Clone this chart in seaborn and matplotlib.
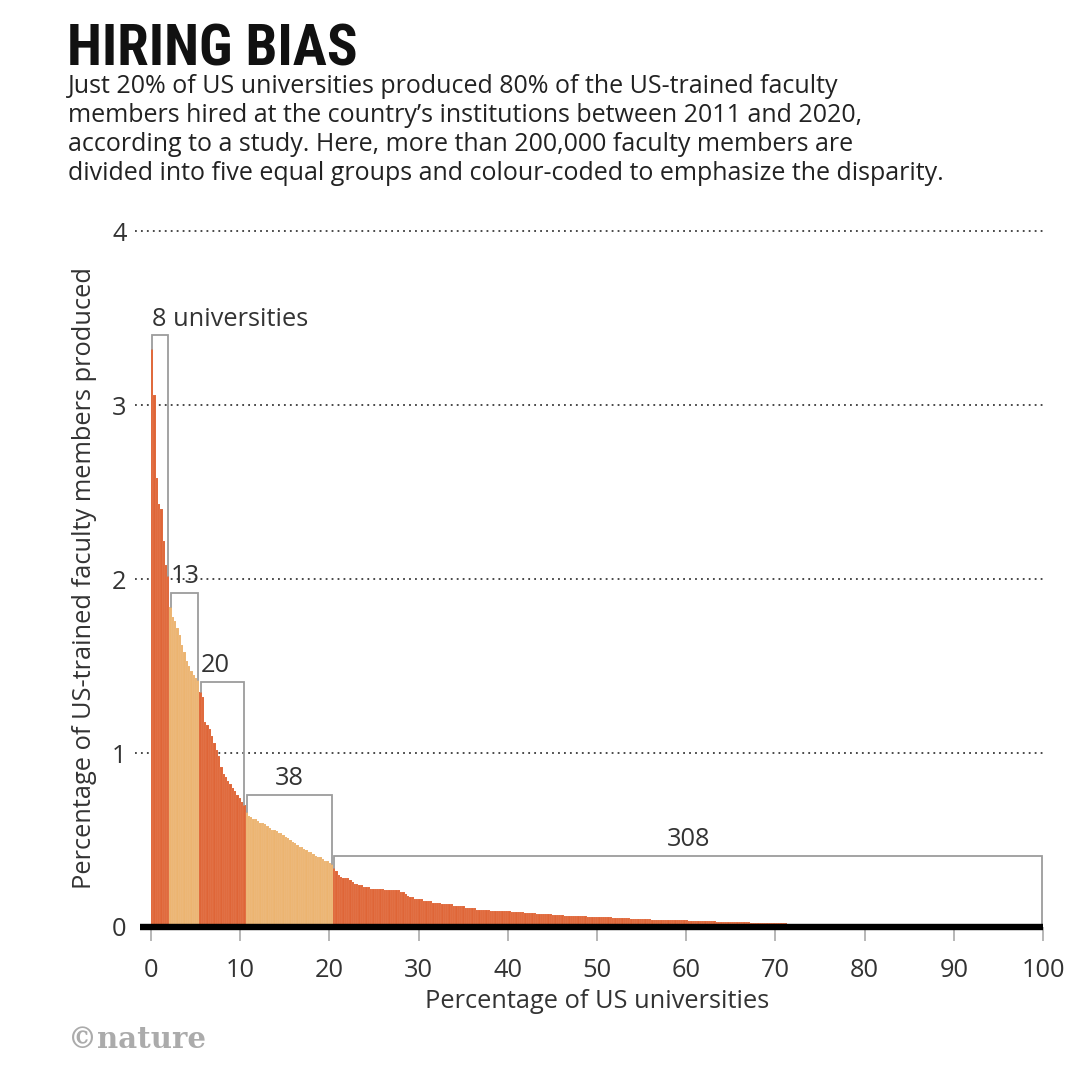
import numpy as np
import pandas as pd
import matplotlib
matplotlib.use("Agg")
import matplotlib.pyplot as plt
import seaborn as sns
from matplotlib import font_manager

# ---------------- data ----------------
G1 = [3.32, 3.06, 2.58, 2.43, 2.40, 2.22, 2.08, 2.02]
G2 = [1.84, 1.78, 1.76, 1.72, 1.68, 1.62, 1.58, 1.53, 1.50, 1.47, 1.45, 1.43, 1.42]
G3 = [1.35, 1.32, 1.18, 1.16, 1.14, 1.10, 1.06, 1.02, 0.98, 0.92,
      0.88, 0.86, 0.84, 0.82, 0.80, 0.78, 0.76, 0.74, 0.72, 0.70]
G4 = [0.66, 0.64, 0.63, 0.62, 0.62, 0.61, 0.60, 0.60, 0.59, 0.58,
      0.57, 0.56, 0.56, 0.55, 0.54, 0.54, 0.53, 0.52, 0.51, 0.50,
      0.49, 0.48, 0.47, 0.46, 0.46, 0.45, 0.44, 0.43, 0.43, 0.42,
      0.41, 0.40, 0.40, 0.39, 0.38, 0.38, 0.37, 0.36]
G5 = [0.34, 0.32, 0.30, 0.29, 0.28, 0.28, 0.28, 0.27, 0.26, 0.25,
      0.25, 0.24, 0.24, 0.23, 0.23, 0.23, 0.22, 0.22, 0.22, 0.22,
      0.22, 0.22, 0.21, 0.21, 0.21, 0.21, 0.21, 0.21, 0.21, 0.20,
      0.20, 0.19, 0.18, 0.17, 0.17, 0.16, 0.16, 0.16,
      0.16, 0.15, 0.15, 0.15, 0.15, 0.14, 0.14, 0.14, 0.14, 0.13,
      0.13, 0.13, 0.13, 0.13, 0.12, 0.12, 0.12, 0.12, 0.12, 0.11,
      0.11, 0.11, 0.11, 0.11, 0.10, 0.10, 0.10, 0.10, 0.10, 0.10,
      0.09, 0.09, 0.09, 0.09, 0.09, 0.09, 0.09, 0.09, 0.09,
      0.088, 0.087, 0.087, 0.085, 0.084, 0.084, 0.082, 0.081, 0.080, 0.080,
      0.078, 0.077, 0.076, 0.076, 0.074, 0.073, 0.072, 0.072, 0.070, 0.069,
      0.068, 0.068, 0.067, 0.066, 0.065, 0.065, 0.064, 0.063, 0.063, 0.062,
      0.062, 0.061, 0.061, 0.060, 0.060, 0.059, 0.059, 0.058, 0.058,
      0.057, 0.057, 0.056, 0.055, 0.055, 0.054, 0.053, 0.053, 0.052, 0.051,
      0.050, 0.050, 0.049, 0.048, 0.048, 0.047, 0.046, 0.046, 0.045, 0.045,
      0.044, 0.044, 0.043, 0.043, 0.042, 0.042, 0.041, 0.041, 0.041, 0.040,
      0.040, 0.040, 0.039, 0.039, 0.039, 0.038, 0.038, 0.038, 0.037,
      0.037, 0.036, 0.036, 0.035, 0.035, 0.034, 0.034, 0.033, 0.033, 0.032,
      0.032, 0.031, 0.031, 0.030, 0.030, 0.030, 0.029, 0.029, 0.028, 0.028,
      0.028, 0.027, 0.027, 0.026, 0.026, 0.026, 0.025, 0.025, 0.025, 0.024,
      0.024, 0.024, 0.023, 0.023, 0.023, 0.022, 0.022, 0.022, 0.022,
      0.021, 0.021, 0.021, 0.020, 0.020, 0.020, 0.019, 0.019, 0.019, 0.018,
      0.018, 0.018, 0.018, 0.017, 0.017, 0.017, 0.017, 0.016, 0.016, 0.016,
      0.016, 0.015, 0.015, 0.015, 0.015, 0.015, 0.014, 0.014, 0.014, 0.014,
      0.014, 0.013, 0.013, 0.013, 0.013, 0.013, 0.013, 0.012, 0.012,
      0.012, 0.012, 0.012, 0.012, 0.011, 0.011, 0.011, 0.011, 0.011, 0.011,
      0.010, 0.010, 0.010, 0.010, 0.010, 0.010, 0.010, 0.009, 0.009, 0.009,
      0.009, 0.009, 0.009, 0.009, 0.009, 0.008, 0.008, 0.008, 0.008, 0.008,
      0.008, 0.008, 0.008, 0.007, 0.007, 0.007, 0.007, 0.007, 0.007, 0.007,
      0.007, 0.007, 0.006, 0.006, 0.006, 0.006, 0.006, 0.006, 0.006, 0.006,
      0.006, 0.005, 0.005, 0.005, 0.005, 0.005, 0.005, 0.005, 0.005, 0.005,
      0.004, 0.004, 0.004, 0.004, 0.004, 0.004, 0.004, 0.004, 0.003, 0.003,
      0.003, 0.003, 0.003, 0.003, 0.002]

GROUPS = [G1, G2, G3, G4, G5]
GROUP_NAMES = ["Group 1", "Group 2", "Group 3", "Group 4", "Group 5"]
GROUP_LABELS = ["8 universities", "13", "20", "38", "308"]
GROUP_COLORS = ["#DF6537", "#ECB470", "#DF6537", "#ECB470", "#DF6537"]
BRACKET_TOP = [3.40, 1.92, 1.41, 0.76, 0.41]
LABEL_ALIGN = ["left", "left", "left", "center", "center"]
X_TICKS = [0, 10, 20, 30, 40, 50, 60, 70, 80, 90, 100]
Y_TICKS = [0, 1, 2, 3, 4]

TITLE = "HIRING BIAS"
SUBTITLE = [
    "Just 20% of US universities produced 80% of the US-trained faculty",
    "members hired at the country\u2019s institutions between 2011 and 2020,",
    "according to a study. Here, more than 200,000 faculty members are",
    "divided into five equal groups and colour-coded to emphasize the disparity.",
]
X_LABEL = "Percentage of US universities"
Y_LABEL = "Percentage of US-trained faculty members produced"

# ---------------- fonts ----------------
names = {f.name for f in font_manager.fontManager.ttflist}
BODY = "Open Sans" if "Open Sans" in names else "DejaVu Sans"
title_family, title_stretch = "DejaVu Sans", "condensed"
for cand in ["Liberation Sans Narrow", "Roboto Condensed", "Open Sans Condensed"]:
    if cand in names:
        title_family, title_stretch = cand, "normal"
        break

sns.set_theme(style="white")
plt.rcParams["font.family"] = [BODY, "DejaVu Sans"]

FS = 18.3
TXT = "#333333"

# ---------------- data frame ----------------
values = np.concatenate([np.asarray(g, float) for g in GROUPS])
n = len(values)
step = 100.0 / n
rank = np.arange(n)
group_of = np.repeat(GROUP_NAMES, [len(g) for g in GROUPS])
df = pd.DataFrame({"pos": (rank + 0.5) * step, "value": values, "group": group_of})

# ---------------- figure ----------------
W, H = 1080, 1075
fig = plt.figure(figsize=(W / 100, H / 100), dpi=100)
fig.patch.set_facecolor("white")
ax_left, ax_right = 135, 1045
ax_bottom, ax_top = 927, 220.6
ax = fig.add_axes([ax_left / W, 1 - ax_bottom / H, (ax_right - ax_left) / W, (ax_bottom - ax_top) / H])

sns.barplot(data=df, x="pos", y="value", hue="group",
            palette=dict(zip(GROUP_NAMES, GROUP_COLORS)),
            native_scale=True, width=1.0, dodge=False, errorbar=None,
            legend=False, saturation=1, edgecolor=(1, 1, 1, 0.18),
            linewidth=0.3, ax=ax, zorder=2)

ax.set_xlim(-1.8, 100.22)
ax.set_ylim(0, 4.06)
sns.despine(ax=ax, left=True, bottom=True)
ax.grid(False)

# dotted gridlines
for y in Y_TICKS[1:]:
    ax.plot([-1.8, 100], [y, y], ls=(0, (1, 2.3)), color="#3a3a3a", lw=1.3, zorder=1)
# thick zero line
ax.plot([-1.2, 100], [0, 0], color="black", lw=4.6, solid_capstyle="butt",
        clip_on=False, zorder=6)

ax.set_xticks(X_TICKS)
ax.set_xticklabels([str(t) for t in X_TICKS])
ax.set_yticks(Y_TICKS)
ax.set_yticklabels([str(t) for t in Y_TICKS])
ax.tick_params(axis="x", length=10, width=1.2, color="#aaaaaa", pad=12.5,
               labelsize=FS, labelcolor=TXT, bottom=True)
ax.tick_params(axis="y", length=0, pad=6, labelsize=FS, labelcolor=TXT, left=True)

ax.set_xlabel(X_LABEL, fontsize=FS, color=TXT)
ax.set_ylabel(Y_LABEL, fontsize=FS, color=TXT)
ax.xaxis.set_label_coords((597 - ax_left) / (ax_right - ax_left), -(1001 - ax_bottom) / (ax_bottom - ax_top))
ax.yaxis.set_label_coords(-(ax_left - 85) / (ax_right - ax_left), (ax_bottom - 578) / (ax_bottom - ax_top))
ax.xaxis.label.set_va("center")
ax.yaxis.label.set_va("center")

# brackets and labels
start = 0
for g, lab, top, al in zip(GROUPS, GROUP_LABELS, BRACKET_TOP, LABEL_ALIGN):
    i0, i1 = start, start + len(g) - 1
    xl, xr = (i0 + 0.5) * step, (i1 + 0.5) * step
    ax.plot([xl, xl, xr, xr], [values[i0], top, top, values[i1]],
            color="#9c9c9c", lw=1.3, zorder=4, solid_joinstyle="miter")
    tx = xl if al == "left" else (xl + xr) / 2
    ax.annotate(lab, (tx, top), xytext=(0, 7), textcoords="offset points",
                ha=al, va="baseline", fontsize=FS, color=TXT, zorder=5)
    start += len(g)

# title & subtitle
t = fig.text(67 / W, 1 - 65 / H, TITLE, fontsize=41, fontweight="bold",
             family=[title_family, "DejaVu Sans"], fontstretch=title_stretch,
             color="#111111", va="baseline", ha="left")
baselines = [93, 122, 151, 180]
subs = []
for line, b in zip(SUBTITLE, baselines):
    subs.append(fig.text(68 / W, 1 - b / H, line, fontsize=17, color="#222222",
                         va="baseline", ha="left"))

# fit subtitle size to the measured width in the reference
fig.canvas.draw()
r = fig.canvas.get_renderer()
w = subs[3].get_window_extent(r).width
fs = 17 * 877 / w
for s in subs:
    s.set_fontsize(fs)

fig.text(68 / W, 1 - 1048 / H, "\u00a9nature", fontsize=21, fontweight="bold",
         family=["DejaVu Serif"], color="#ababab", va="baseline", ha="left")

fig.savefig("out.png", dpi=100, facecolor="white")
